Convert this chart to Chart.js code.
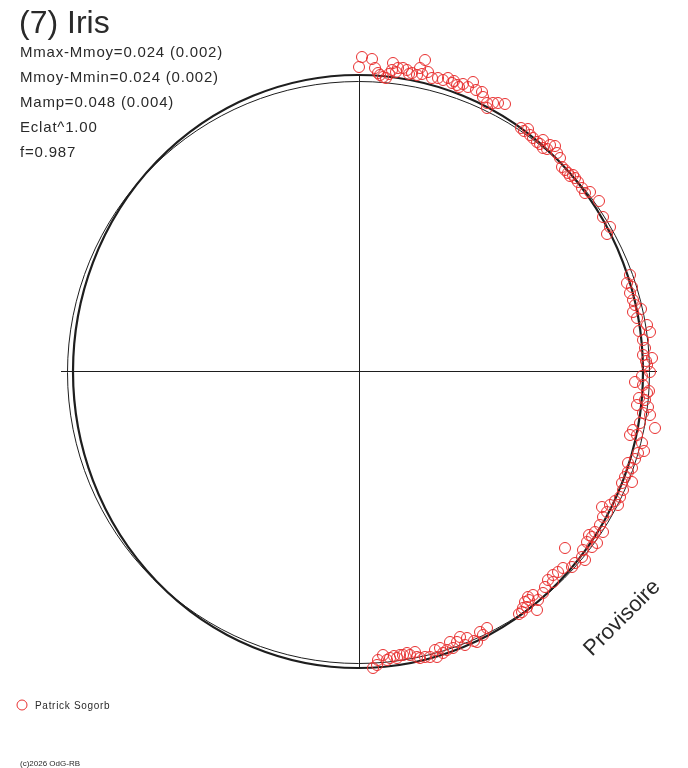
<!DOCTYPE html>
<html lang="fr">
<head>
    <meta charset="UTF-8">
    <title>(7) Iris</title>
    <script src="https://cdn.jsdelivr.net/npm/chart.js"></script>
    <style>
        html, body { margin: 0; padding: 0; background: #fff; }
        canvas { display: block; }
    </style>
</head>
<body>
    <canvas id="irisChart" width="688" height="768"></canvas>
    <script>
        // offsets from the centre of the diagram (same unit on both axes)
        const pointsX = [
            3, 13, 0, 16, 19, 24, 27, 34, 33, 39, 44, 48, 53, 58, 61, 66, 69, 73, 79, 84,
            89, 93, 98, 104, 109, 114, 117, 123, 124, 128, 128, 134, 139, 146, 37,
            21, 30, 50, 63, 95, 100,
            162, 169, 171, 174, 178, 184, 184, 191, 196, 198, 201, 203, 206, 209, 214, 216,
            223, 226, 231, 240, 244, 251, 248,
            165, 181, 188, 211, 219,
            271, 268, 273, 271, 274, 276, 274, 278, 288, 291, 284, 286, 284, 293, 288, 291,
            276, 284, 288, 286, 289, 278, 284, 291, 296, 281, 274, 271,
            282, 280, 287, 283, 290, 280,
            278, 283, 279, 269, 273, 269, 273, 263, 264, 261, 251, 243, 259, 244, 241, 236,
            238, 233, 244, 233, 228, 206, 224, 223, 226, 216, 213, 204, 199, 194, 189, 194,
            285, 276, 266, 256, 248, 230,
            186, 174, 184, 169, 166, 179, 164, 178, 163, 168,
            160, 170,
            128, 121, 124, 118, 108, 101, 98, 106, 91, 94, 88, 81, 76, 78, 71, 66, 61, 56,
            51, 48, 44, 41, 38, 31, 24, 19, 18, 14,
            115, 84, 58, 35, 28
        ];
        const pointsY = [
            314, 312, 304, 303, 298, 294, 293, 308, 301, 303, 303, 301, 298, 296, 303, 311, 299, 293, 293, 291,
            293, 288, 286, 287, 284, 289, 281, 279, 274, 268, 263, 268, 268, 267, 299,
            296, 297, 297, 297, 290, 284,
            243, 242, 236, 233, 229, 231, 223, 226, 225, 218, 213, 204, 201, 198, 196, 193,
            183, 178, 179, 170, 154, 144, 137,
            240, 227, 222, 195, 189,
            96, 88, 84, 78, 71, 66, 59, 53, 46, 39, 31, 23, 16, 13, 6, -1,
            -11, -14, -22, -29, -36, -34, -42, -44, -57, -52, -59, -64,
            62, 40, 10, -5, -20, -27,
            -64, -72, -82, -92, -97, -101, -111, -112, -119, -126, -134, -136, -134, -146, -154, -161,
            -172, -176, -161, -166, -171, -177, -179, -186, -189, -192, -196, -197, -201, -204, -209, -211,
            -80, -88, -106, -130, -141, -164,
            -216, -224, -222, -226, -231, -229, -237, -239, -241, -236,
            -243, -229,
            -257, -261, -264, -271, -267, -266, -271, -274, -271, -277, -279, -277, -279, -286, -286, -286, -287, -281,
            -284, -282, -284, -284, -287, -287, -284, -289, -294, -297,
            -270, -282, -286, -285, -289
        ];

        const refCircle = [-0.5, -1.5, 291];          // cx, cy, r
        const fitEllipse = [-1, -0.5, 285, 296.5];    // cx, cy, rx, ry
        const axisHalf = [298, 297];                  // x, y

        const titleText = '(7) Iris';
        const statLines = [
            'Mmax-Mmoy=0.024 (0.002)',
            'Mmoy-Mmin=0.024 (0.002)',
            'Mamp=0.048 (0.004)',
            'Eclat^1.00',
            'f=0.987'
        ];
        const observer = 'Patrick Sogorb';
        const stamp = 'Provisoire';
        const copyright = '(c)2026 OdG-RB';

        const red = 'rgb(232, 48, 48)';
        const ink = '#1e1e1e';

        const points = pointsX.map((x, i) => ({ x: x, y: pointsY[i] }));

        const decorations = {
            id: 'decorations',
            beforeDatasetsDraw(chart) {
                const ctx = chart.ctx;
                const xs = chart.scales.x;
                const ys = chart.scales.y;
                const kx = xs.width / (xs.max - xs.min);
                const ky = ys.height / (ys.max - ys.min);
                const cx = xs.getPixelForValue(0);
                const cy = ys.getPixelForValue(0);

                ctx.save();
                ctx.strokeStyle = ink;

                // axes
                ctx.lineWidth = 1;
                ctx.beginPath();
                ctx.moveTo(xs.getPixelForValue(-axisHalf[0]), Math.round(cy) + 0.5);
                ctx.lineTo(xs.getPixelForValue(axisHalf[0]), Math.round(cy) + 0.5);
                ctx.moveTo(Math.round(cx) + 0.5, ys.getPixelForValue(axisHalf[1]));
                ctx.lineTo(Math.round(cx) + 0.5, ys.getPixelForValue(-axisHalf[1]));
                ctx.stroke();

                // reference circle
                ctx.beginPath();
                ctx.ellipse(xs.getPixelForValue(refCircle[0]), ys.getPixelForValue(refCircle[1]),
                    refCircle[2] * kx, refCircle[2] * ky, 0, 0, Math.PI * 2);
                ctx.stroke();

                // fitted ellipse
                ctx.lineWidth = 2.2;
                ctx.beginPath();
                ctx.ellipse(xs.getPixelForValue(fitEllipse[0]), ys.getPixelForValue(fitEllipse[1]),
                    fitEllipse[2] * kx, fitEllipse[3] * ky, 0, 0, Math.PI * 2);
                ctx.stroke();
                ctx.restore();
            },
            afterDraw(chart) {
                const ctx = chart.ctx;
                ctx.save();
                ctx.fillStyle = '#2a2a2a';
                ctx.textAlign = 'left';
                ctx.textBaseline = 'alphabetic';

                ctx.font = '32px "Liberation Sans", Arial, sans-serif';
                ctx.fillText(titleText, 19, 33);

                ctx.font = '15px "Liberation Sans", Arial, sans-serif';
                ctx.letterSpacing = '0.8px';
                statLines.forEach((line, i) => {
                    ctx.fillText(line, 20, 57 + i * 25);
                });

                // legend
                ctx.strokeStyle = red;
                ctx.lineWidth = 1;
                ctx.beginPath();
                ctx.arc(22, 705, 5, 0, Math.PI * 2);
                ctx.stroke();
                ctx.font = '10px "Liberation Sans", Arial, sans-serif';
                ctx.letterSpacing = '0.7px';
                ctx.fillText(observer, 35, 709);

                ctx.font = '8px "Liberation Sans", Arial, sans-serif';
                ctx.letterSpacing = '0px';
                ctx.fillText(copyright, 20, 766);

                // provisional stamp
                ctx.translate(592, 657);
                ctx.rotate(-Math.PI / 4);
                ctx.font = '22px "Liberation Sans", Arial, sans-serif';
                ctx.fillText(stamp, 0, 0);
                ctx.restore();
            }
        };

        new Chart(document.getElementById('irisChart'), {
            type: 'scatter',
            data: {
                datasets: [{
                    label: observer,
                    data: points,
                    pointStyle: 'circle',
                    pointRadius: 5.5,
                    pointBorderWidth: 1,
                    pointBorderColor: red,
                    pointBackgroundColor: 'rgba(0,0,0,0)',
                    showLine: false
                }]
            },
            options: {
                responsive: false,
                animation: false,
                devicePixelRatio: 1,
                layout: { padding: 0, autoPadding: false },
                plugins: {
                    legend: { display: false },
                    tooltip: { enabled: false }
                },
                scales: {
                    x: { type: 'linear', min: -359, max: 329, display: false },
                    y: { type: 'linear', min: -397, max: 371, display: false }
                }
            },
            plugins: [decorations]
        });
    </script>
</body>
</html>
